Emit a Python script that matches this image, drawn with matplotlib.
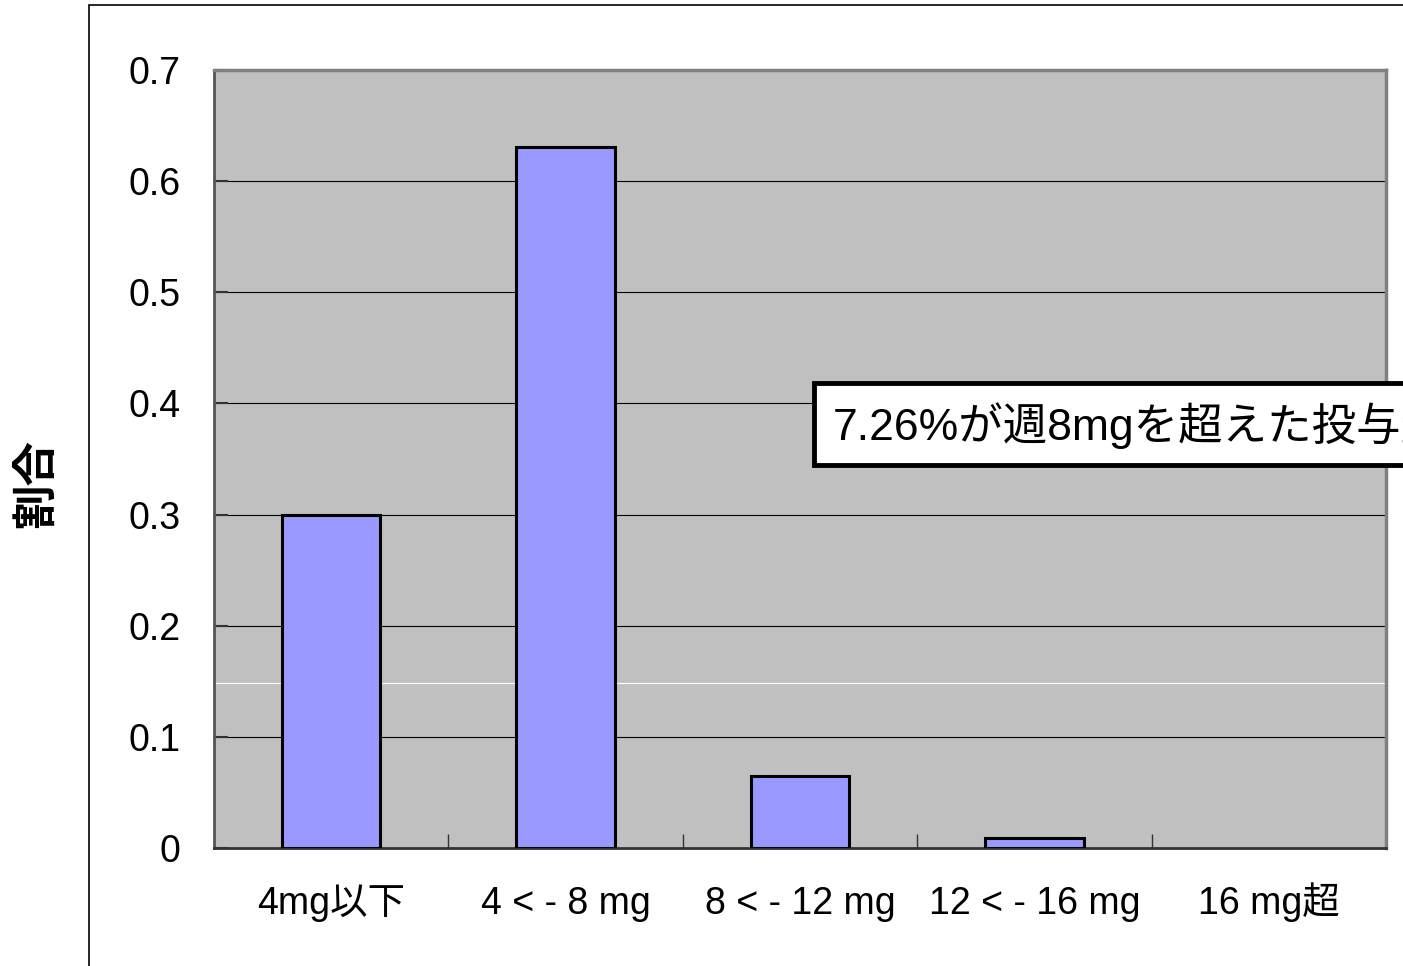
import matplotlib
matplotlib.use("Agg")
import matplotlib.pyplot as plt
from matplotlib.patches import Rectangle
import numpy as np

plt.rcParams['font.family'] = ['Liberation Sans', 'Noto Sans CJK JP', 'DejaVu Sans']

categories = ["4mg以下", "4 < - 8 mg", "8 < - 12 mg", "12 < - 16 mg", "16 mg超"]
ratios = [0.30, 0.631, 0.065, 0.009, 0.0]
yticks = [0, 0.1, 0.2, 0.3, 0.4, 0.5, 0.6, 0.7]
ylabels = ["0", "0.1", "0.2", "0.3", "0.4", "0.5", "0.6", "0.7"]
note = "7.26%が週8mgを超えた投与量"

fig = plt.figure(figsize=(14.03, 9.66), dpi=100)
ax = fig.add_axes([214/1403, 1-848/966, 1172/1403, 778/966])
ax.set_facecolor("#c0c0c0")

x = np.arange(len(categories))
lws = [2.2 if r > 0 else 0 for r in ratios]
ax.bar(x, ratios, width=0.42, color="#9999ff", edgecolor="black", linewidth=lws, zorder=3)

ax.set_xlim(-0.5, len(categories) - 0.5)
ax.set_ylim(0, 0.7)

# gridlines
for v in yticks[1:-1]:
    ax.axhline(v, color="black", lw=0.8, zorder=1)
ax.axhline(0.1485, color="white", lw=0.8, zorder=1)

ax.set_yticks(yticks)
ax.set_yticklabels(ylabels, fontsize=27)
ax.tick_params(axis="y", direction="in", length=10, width=1.5, color="#333333", pad=24)

ax.set_xticks(x)
ax.set_xticklabels([""] * len(categories))
ax.tick_params(axis="x", which="major", length=0)
for xi, c in zip(x, categories):
    ax.text(xi, -(914 - 848) / 778, c, transform=ax.get_xaxis_transform(),
            fontsize=27, ha="center", va="baseline")
ax.set_xticks(np.arange(0.5, len(categories) - 1, 1.0), minor=True)
ax.tick_params(axis="x", which="minor", direction="in", length=10, width=1, color="#333333")

for s in ["top", "right"]:
    ax.spines[s].set_color("#808080")
    ax.spines[s].set_linewidth(2.5)
ax.spines["left"].set_color("#555555")
ax.spines["left"].set_linewidth(2)
ax.spines["bottom"].set_color("#333333")
ax.spines["bottom"].set_linewidth(2)

fig.text(38/1403, 1-483/966, "割合", rotation=90, fontsize=32, fontweight="bold",
         ha="center", va="center")

# outer chart frame (cut at right and bottom)
fig.patches.append(Rectangle((89/1403, -0.1), 1.2, 0.1 + 1 - 5/966, transform=fig.transFigure,
                             fill=False, edgecolor="black", lw=1.2))

# annotation box
fig.patches.append(Rectangle((814/1403, 1-465/966), 0.6, 82/966, transform=fig.transFigure,
                             facecolor="white", edgecolor="black", lw=3.5, zorder=5))
fig.text(833/1403, 1-440/966, note, fontsize=32, ha="left", va="baseline", zorder=6)

fig.savefig("out.png", dpi=100)
